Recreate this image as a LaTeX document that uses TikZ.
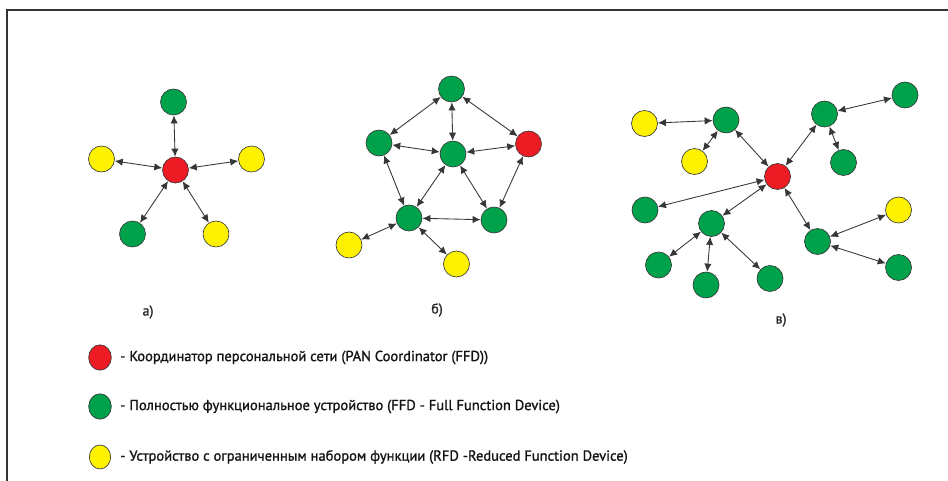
\documentclass[tikz,border=0pt]{standalone}
\usepackage{fontspec}
\setmainfont{PT Sans}
\newfontfamily\legfont{PT Sans}[FakeBold=1.2]
\usetikzlibrary{arrows.meta,shapes.geometric}
\definecolor{nred}{RGB}{237,28,36}
\definecolor{ngreen}{RGB}{0,161,75}
\definecolor{nyellow}{RGB}{255,242,0}
\definecolor{nedge}{RGB}{55,55,55}
\tikzset{
  dev/.style={circle,draw=nedge,line width=0.5pt,minimum size=19.5pt,inner sep=0pt,outer sep=0pt},
  rn/.style={dev,fill=nred},
  gn/.style={dev,fill=ngreen},
  yn/.style={dev,fill=nyellow},
  lnk/.style={{Latex[length=6pt,width=5.5pt]}-{Latex[length=6pt,width=5.5pt]},draw=nedge,line width=0.65pt,shorten <=0.3pt,shorten >=0.3pt},
  lab/.style={font=\legfont\fontsize{10.5}{12}\selectfont,text=black!85},
  leg/.style={ellipse,draw=nedge,line width=0.5pt,minimum width=17pt,minimum height=19pt,inner sep=0pt},
  legtxt/.style={anchor=west,font=\legfont\fontsize{10.9}{12}\selectfont,text=black!92,inner sep=0pt}
}
\begin{document}
\begin{tikzpicture}[x=0.75pt,y=-0.75pt]
\useasboundingbox (0,0) rectangle (948,481);
\draw[line width=0.8pt,draw=black!80] (7,481) -- (7,10) -- (948,10);
% panel a
\node[rn] (a0) at (175.5,170) {};
\node[gn] (a1) at (173.5,102) {};
\node[yn] (a2) at (101.5,159) {};
\node[yn] (a3) at (251.5,159) {};
\node[gn] (a4) at (132.5,234) {};
\node[yn] (a5) at (216,234) {};
\foreach \n in {a1,a2,a3,a4,a5} \draw[lnk] (a0) -- (\n);
\node[lab] (la) at (148,312) {а)};
% panel b
\node[gn] (b1) at (451.5,89) {};
\node[gn] (b2) at (379,143) {};
\node[gn] (b3) at (453,154) {};
\node[rn] (b4) at (528.5,144) {};
\node[gn] (b5) at (409,218) {};
\node[gn] (b6) at (494,220) {};
\node[yn] (b7) at (349,245) {};
\node[yn] (b8) at (456.5,264) {};
\draw[lnk] (b1) -- (b2);
\draw[lnk] (b1) -- (b3);
\draw[lnk] (b1) -- (b4);
\draw[lnk] (b2) -- (b3);
\draw[lnk] (b3) -- (b4);
\draw[lnk] (b2) -- (b5);
\draw[lnk] (b3) -- (b5);
\draw[lnk] (b3) -- (b6);
\draw[lnk] (b4) -- (b6);
\draw[lnk] (b5) -- (b6);
\draw[lnk] (b5) -- (b7);
\draw[lnk] (b5) -- (b8);
\node[lab] (lb) at (437,310) {б)};
% panel c
\node[rn] (c0) at (777.5,176.5) {};
\node[yn] (c1) at (644.5,123.5) {};
\node[gn] (c2) at (726,120) {};
\node[yn] (c3) at (694.5,161.5) {};
\node[gn] (c4) at (824.5,114) {};
\node[gn] (c5) at (905,95) {};
\node[gn] (c6) at (843.5,162.5) {};
\node[yn] (c7) at (898.5,210) {};
\node[gn] (c8) at (817.5,241.5) {};
\node[gn] (c9) at (898.5,267.5) {};
\node[gn] (c10) at (645,210) {};
\node[gn] (c11) at (711.5,223.5) {};
\node[gn] (c12) at (658.5,265) {};
\node[gn] (c13) at (706,285) {};
\node[gn] (c14) at (770,278.5) {};
\draw[lnk] (c1) -- (c2);
\draw[lnk] (c2) -- (c3);
\draw[lnk] (c2) -- (c0);
\draw[lnk] (c0) -- (c4);
\draw[lnk] (c4) -- (c5);
\draw[lnk] (c4) -- (c6);
\draw[lnk] (c0) -- (c10);
\draw[lnk] (c0) -- (c11);
\draw[lnk] (c11) -- (c12);
\draw[lnk] (c11) -- (c13);
\draw[lnk] (c11) -- (c14);
\draw[lnk] (c0) -- (c8);
\draw[lnk] (c8) -- (c7);
\draw[lnk] (c8) -- (c9);
\node[lab] (lc) at (781,320) {в)};
% legend
\node[leg,fill=nred] (l1) at (100,357.5) {};
\node[leg,fill=ngreen] (l2) at (100,406.5) {};
\node[leg,fill=nyellow,minimum width=16pt,minimum height=18pt] (l3) at (100,457) {};
\node[legtxt] (t1) at (120,357.5) {- Координатор персональной сети (PAN Coordinator (FFD))};
\node[legtxt] (t2) at (120,406.5) {- Полностью функциональное устройство (FFD - Full Function Device)};
\node[legtxt] (t3) at (120,457) {- Устройство с ограниченным набором функции (RFD -Reduced Function Device)};
\end{tikzpicture}
\end{document}
